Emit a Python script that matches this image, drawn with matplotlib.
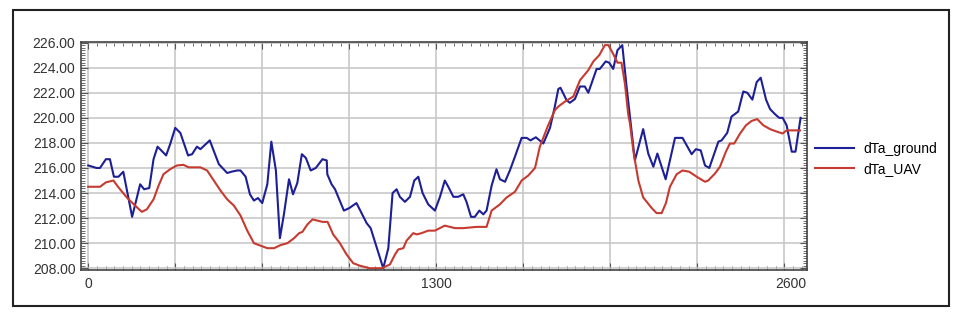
import matplotlib
matplotlib.use('Agg')
import matplotlib.pyplot as plt
import matplotlib.transforms as mtransforms
from matplotlib.patches import Rectangle
from matplotlib.ticker import MultipleLocator, FormatStrFormatter

plt.rcParams['font.family'] = ['Liberation Sans', 'DejaVu Sans']

# dTa_ground (blue) - distance / value
ground_x = [0, 31, 44, 66, 81, 96, 113, 131, 164, 194, 209, 228, 244, 259, 291, 306,
            325, 344, 373, 388, 406, 419, 454, 488, 519, 535, 556, 569, 588, 604, 619,
            634, 650, 669, 684, 701, 716, 731, 750, 765, 781, 798, 813, 831, 850, 875,
            891, 893, 909, 922, 955, 975, 1002, 1021, 1040, 1055, 1102, 1121, 1137,
            1152, 1164, 1183, 1202, 1218, 1233, 1249, 1270, 1295, 1314, 1332, 1345,
            1364, 1382, 1401, 1413, 1430, 1444, 1461, 1476, 1488, 1507, 1525, 1538,
            1557, 1575, 1594, 1619, 1638, 1652, 1672, 1700, 1725, 1743, 1756, 1764,
            1787, 1799, 1818, 1837, 1855, 1868, 1899, 1911, 1933, 1946, 1961, 1977,
            1995, 2011, 2042, 2073, 2092, 2111, 2126, 2157, 2192, 2220, 2254, 2270,
            2288, 2304, 2320, 2354, 2366, 2387, 2403, 2428, 2447, 2462, 2481, 2497,
            2512, 2532, 2547, 2565, 2581, 2594, 2609, 2628, 2642, 2661]
ground_y = [216.2, 216.0, 216.0, 216.7, 216.7, 215.3, 215.3, 215.7, 212.1, 214.7, 214.3,
            214.4, 216.7, 217.7, 217.0, 217.9, 219.2, 218.8, 217.0, 217.1, 217.7, 217.5,
            218.2, 216.3, 215.6, 215.7, 215.8, 215.8, 215.3, 213.9, 213.4, 213.6, 213.2,
            214.7, 218.1, 215.8, 210.4, 212.3, 215.1, 213.9, 214.8, 217.1, 216.8, 215.8,
            216.0, 216.7, 216.6, 215.5, 214.7, 214.3, 212.6, 212.8, 213.2, 212.4, 211.6,
            211.2, 208.0, 209.6, 214.0, 214.3, 213.7, 213.3, 213.7, 215.0, 215.3, 214.0,
            213.1, 212.6, 213.7, 215.0, 214.5, 213.7, 213.7, 213.9, 213.3, 212.1, 212.1,
            212.6, 212.3, 212.6, 214.6, 215.9, 215.1, 214.9, 215.8, 216.9, 218.4, 218.4,
            218.2, 218.45, 217.95, 219.2, 220.9, 222.3, 222.4, 221.4, 221.2, 221.5, 222.5,
            222.5, 222.0, 223.9, 223.9, 224.5, 224.4, 223.9, 225.4, 225.8, 222.5, 216.6,
            219.1, 217.15, 216.1, 217.15, 215.1, 218.4, 218.4, 217.1, 217.5, 217.4, 216.2,
            216.0, 218.1, 218.2, 218.8, 220.1, 220.5, 222.1, 222.0, 221.45, 222.85, 223.2,
            221.45, 220.7, 220.3, 220.0, 220.0, 219.4, 217.3, 217.3, 220.0]

# dTa_UAV (red)
uav_x = [0, 44, 66, 94, 113, 144, 175, 200, 219, 244, 263, 281, 306, 331, 356, 375, 419,
         444, 469, 494, 519, 544, 569, 594, 619, 644, 669, 694, 719, 744, 769, 788, 800,
         819, 838, 856, 875, 894, 915, 940, 965, 990, 1015, 1052, 1096, 1127, 1146, 1158,
         1177, 1189, 1214, 1227, 1245, 1270, 1295, 1332, 1370, 1401, 1451, 1488, 1507,
         1538, 1563, 1594, 1619, 1644, 1669, 1687, 1718, 1743, 1756, 1781, 1812, 1837,
         1868, 1887, 1909, 1930, 1943, 1961, 1977, 1992, 2005, 2017, 2024, 2036, 2055,
         2073, 2105, 2123, 2142, 2158, 2173, 2198, 2220, 2245, 2273, 2304, 2316, 2341,
         2360, 2382, 2397, 2413, 2435, 2457, 2478, 2499, 2522, 2547, 2572, 2594, 2609,
         2628, 2659]
uav_y = [214.5, 214.5, 214.85, 215.0, 214.45, 213.65, 213.0, 212.5, 212.7, 213.5, 214.6,
         215.5, 215.9, 216.2, 216.25, 216.05, 216.05, 215.8, 215.0, 214.2, 213.5, 213.0,
         212.2, 211.0, 210.0, 209.8, 209.6, 209.6, 209.85, 210.0, 210.4, 210.8, 210.9,
         211.5, 211.9, 211.8, 211.7, 211.7, 210.7, 210.0, 209.1, 208.4, 208.2, 208.0,
         208.0, 208.3, 209.1, 209.5, 209.6, 210.2, 210.8, 210.7, 210.8, 211.0, 211.0,
         211.4, 211.2, 211.2, 211.3, 211.3, 212.6, 213.1, 213.65, 214.1, 215.0, 215.4,
         216.0, 217.7, 219.4, 220.6, 220.9, 221.3, 221.7, 223.0, 223.8, 224.5, 225.0,
         225.8, 225.8, 225.1, 224.4, 224.4, 222.7, 220.3, 219.5, 217.4, 215.0, 213.65,
         212.8, 212.4, 212.4, 213.2, 214.5, 215.5, 215.8, 215.7, 215.3, 214.9, 215.0,
         215.55, 216.1, 217.3, 217.95, 217.95, 218.75, 219.4, 219.75, 219.9, 219.4,
         219.1, 218.9, 218.75, 219.0, 219.0, 219.0]

x_ticks = [0, 325, 650, 975, 1300, 1625, 1950, 2275, 2600]
x_labels = ['0', '', '', '', '1300', '', '', '', '2600']

fig = plt.figure(figsize=(9.62, 3.24), dpi=100)
ax = fig.add_axes([81 / 962, 54 / 324, 726 / 962, 228 / 324])

ax.plot(ground_x, ground_y, color='#1c1f96', lw=1.5, label='dTa_ground')
ax.plot(uav_x, uav_y, color='#c63a30', lw=1.5, label='dTa_UAV')

ax.set_xlim(-27, 2685)
ax.set_ylim(207.86, 226.05)

ax.set_xticks(x_ticks)
ax.set_xticklabels(x_labels)
ax.xaxis.set_minor_locator(MultipleLocator(32.5))
ax.yaxis.set_major_locator(MultipleLocator(2))
ax.yaxis.set_minor_locator(MultipleLocator(0.2))
ax.yaxis.set_major_formatter(FormatStrFormatter('%.2f'))

ax.grid(True, which='major', color='#c4c4c4', lw=1.1)
ax.tick_params(which='both', direction='in', top=True, right=True,
               colors='#555555', labelcolor='#333333', labelsize=10)
ax.tick_params(which='major', length=5)
ax.tick_params(which='minor', length=3)
ax.tick_params(axis='y', pad=4)
ax.tick_params(axis='x', pad=5)
for s in ax.spines.values():
    s.set_color('#444444')
    s.set_linewidth(1.2)

# the last x label sits a bit to the right in the original
lab = ax.get_xticklabels()[-1]
lab.set_transform(lab.get_transform() + mtransforms.ScaledTranslation(7 / 100, 0, fig.dpi_scale_trans))

fig.legend(loc='upper left', bbox_to_anchor=(815 / 962, 1 - 142 / 324), frameon=False,
           fontsize=10, handlelength=2.8, handletextpad=0.65, labelspacing=0.4,
           borderpad=0, borderaxespad=0)

# outer frame
fig.patches.append(Rectangle((13 / 962, 18 / 324), 936 / 962, 296 / 324,
                             transform=fig.transFigure, fill=False,
                             edgecolor='#222222', lw=1.5))

fig.savefig('out.png', dpi=100)
